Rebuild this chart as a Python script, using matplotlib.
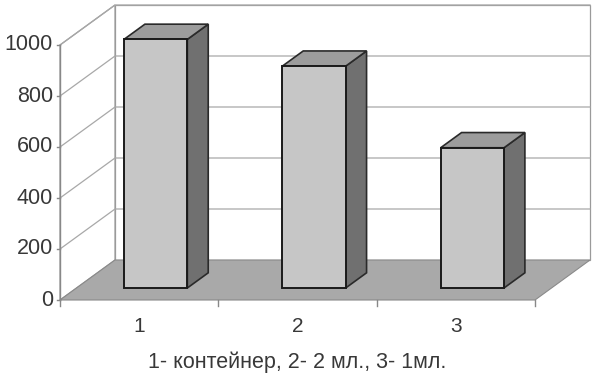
import matplotlib
matplotlib.use("Agg")
import matplotlib.pyplot as plt
from matplotlib.patches import Polygon

# ---- data ----
categories = ["1", "2", "3"]
values = [975, 870, 550]
yticks = [0, 200, 400, 600, 800, 1000]
caption = "1- контейнер, 2- 2 мл., 3- 1мл."

plt.rcParams['font.family'] = ['Liberation Sans', 'DejaVu Sans']

W, H = 595, 378
fig = plt.figure(figsize=(W / 100, H / 100), dpi=100)
ax = fig.add_axes([0, 0, 1, 1])

# pixel mapping: x data 0..3 -> px 60..535 ; y 0..1000 -> px 300..45 (from top)
px_per_cat = (535 - 60) / 3.0
px_per_val = (300 - 45) / 1000.0
ax.set_xlim(-60 / px_per_cat, (W - 60) / px_per_cat)
ax.set_ylim(-(H - 300) / px_per_val, 300 / px_per_val)
ax.axis("off")

ymax = 1000
n = len(categories)
DX = 55 / px_per_cat     # full depth offset, x
DY = 40 / px_per_val     # full depth offset, y


def P(x, y, d):
    return (x + DX * d, y + DY * d)


wall_edge = "#9a9a9a"
grid_c = "#a8a8a8"
txt_c = "#383838"

# back wall
ax.add_patch(Polygon([P(0, 0, 1), P(n, 0, 1), P(n, ymax, 1), P(0, ymax, 1)],
                     closed=True, facecolor="white", edgecolor=wall_edge, lw=0.9, zorder=1))
# left wall
ax.add_patch(Polygon([P(0, 0, 0), P(0, 0, 1), P(0, ymax, 1), P(0, ymax, 0)],
                     closed=True, facecolor="white", edgecolor=wall_edge, lw=0.9, zorder=1))
# gridlines
for v in yticks[1:]:
    ax.plot(*zip(P(0, v, 0), P(0, v, 1), P(n, v, 1)), color=grid_c, lw=0.9, zorder=2)
# floor
ax.add_patch(Polygon([P(0, 0, 0), P(n, 0, 0), P(n, 0, 1), P(0, 0, 1)],
                     closed=True, facecolor="#a9a9a9", edgecolor="#8a8a8a", lw=0.8, zorder=3))

# y axis line and ticks
ax.plot(*zip(P(0, 0, 0), P(0, ymax, 0)), color="#888888", lw=1.0, zorder=4)
for v in yticks:
    x0, y0 = P(0, v, 0)
    ax.plot([x0 - 3 / px_per_cat, x0], [y0, y0], color="#888888", lw=1.0, zorder=4)
    ax.text(x0 - 7 / px_per_cat, y0, str(v), ha="right", va="center",
            fontsize=15.5, color=txt_c, zorder=5)

# category ticks on floor front edge
for i in range(n + 1):
    ax.plot([i, i], [0, -6 / px_per_val], color="#888888", lw=1.0, zorder=4)

# bars
bw = 0.4
d0, d1 = 0.3, 0.68
front_c, side_c, top_c = "#c6c6c6", "#707070", "#9c9c9c"
for i, v in enumerate(values):
    xl = i + 0.5 - bw / 2
    xr = i + 0.5 + bw / 2
    front = [P(xl, 0, d0), P(xr, 0, d0), P(xr, v, d0), P(xl, v, d0)]
    side = [P(xr, 0, d0), P(xr, 0, d1), P(xr, v, d1), P(xr, v, d0)]
    top = [P(xl, v, d0), P(xr, v, d0), P(xr, v, d1), P(xl, v, d1)]
    ax.add_patch(Polygon(side, closed=True, facecolor=side_c, edgecolor="#2a2a2a", lw=1.2, zorder=6))
    ax.add_patch(Polygon(top, closed=True, facecolor=top_c, edgecolor="#2a2a2a", lw=1.2, zorder=6))
    ax.add_patch(Polygon(front, closed=True, facecolor=front_c, edgecolor="#1a1a1a", lw=1.4, zorder=7))

# category labels
for i, c in enumerate(categories):
    ax.text(i + 0.5, -26 / px_per_val, c, ha="center", va="center",
            fontsize=15, color=txt_c)

ax.text(1.5, -62 / px_per_val, caption, ha="center", va="center",
        fontsize=15.5, color=txt_c)

fig.savefig("out.png", dpi=100)
